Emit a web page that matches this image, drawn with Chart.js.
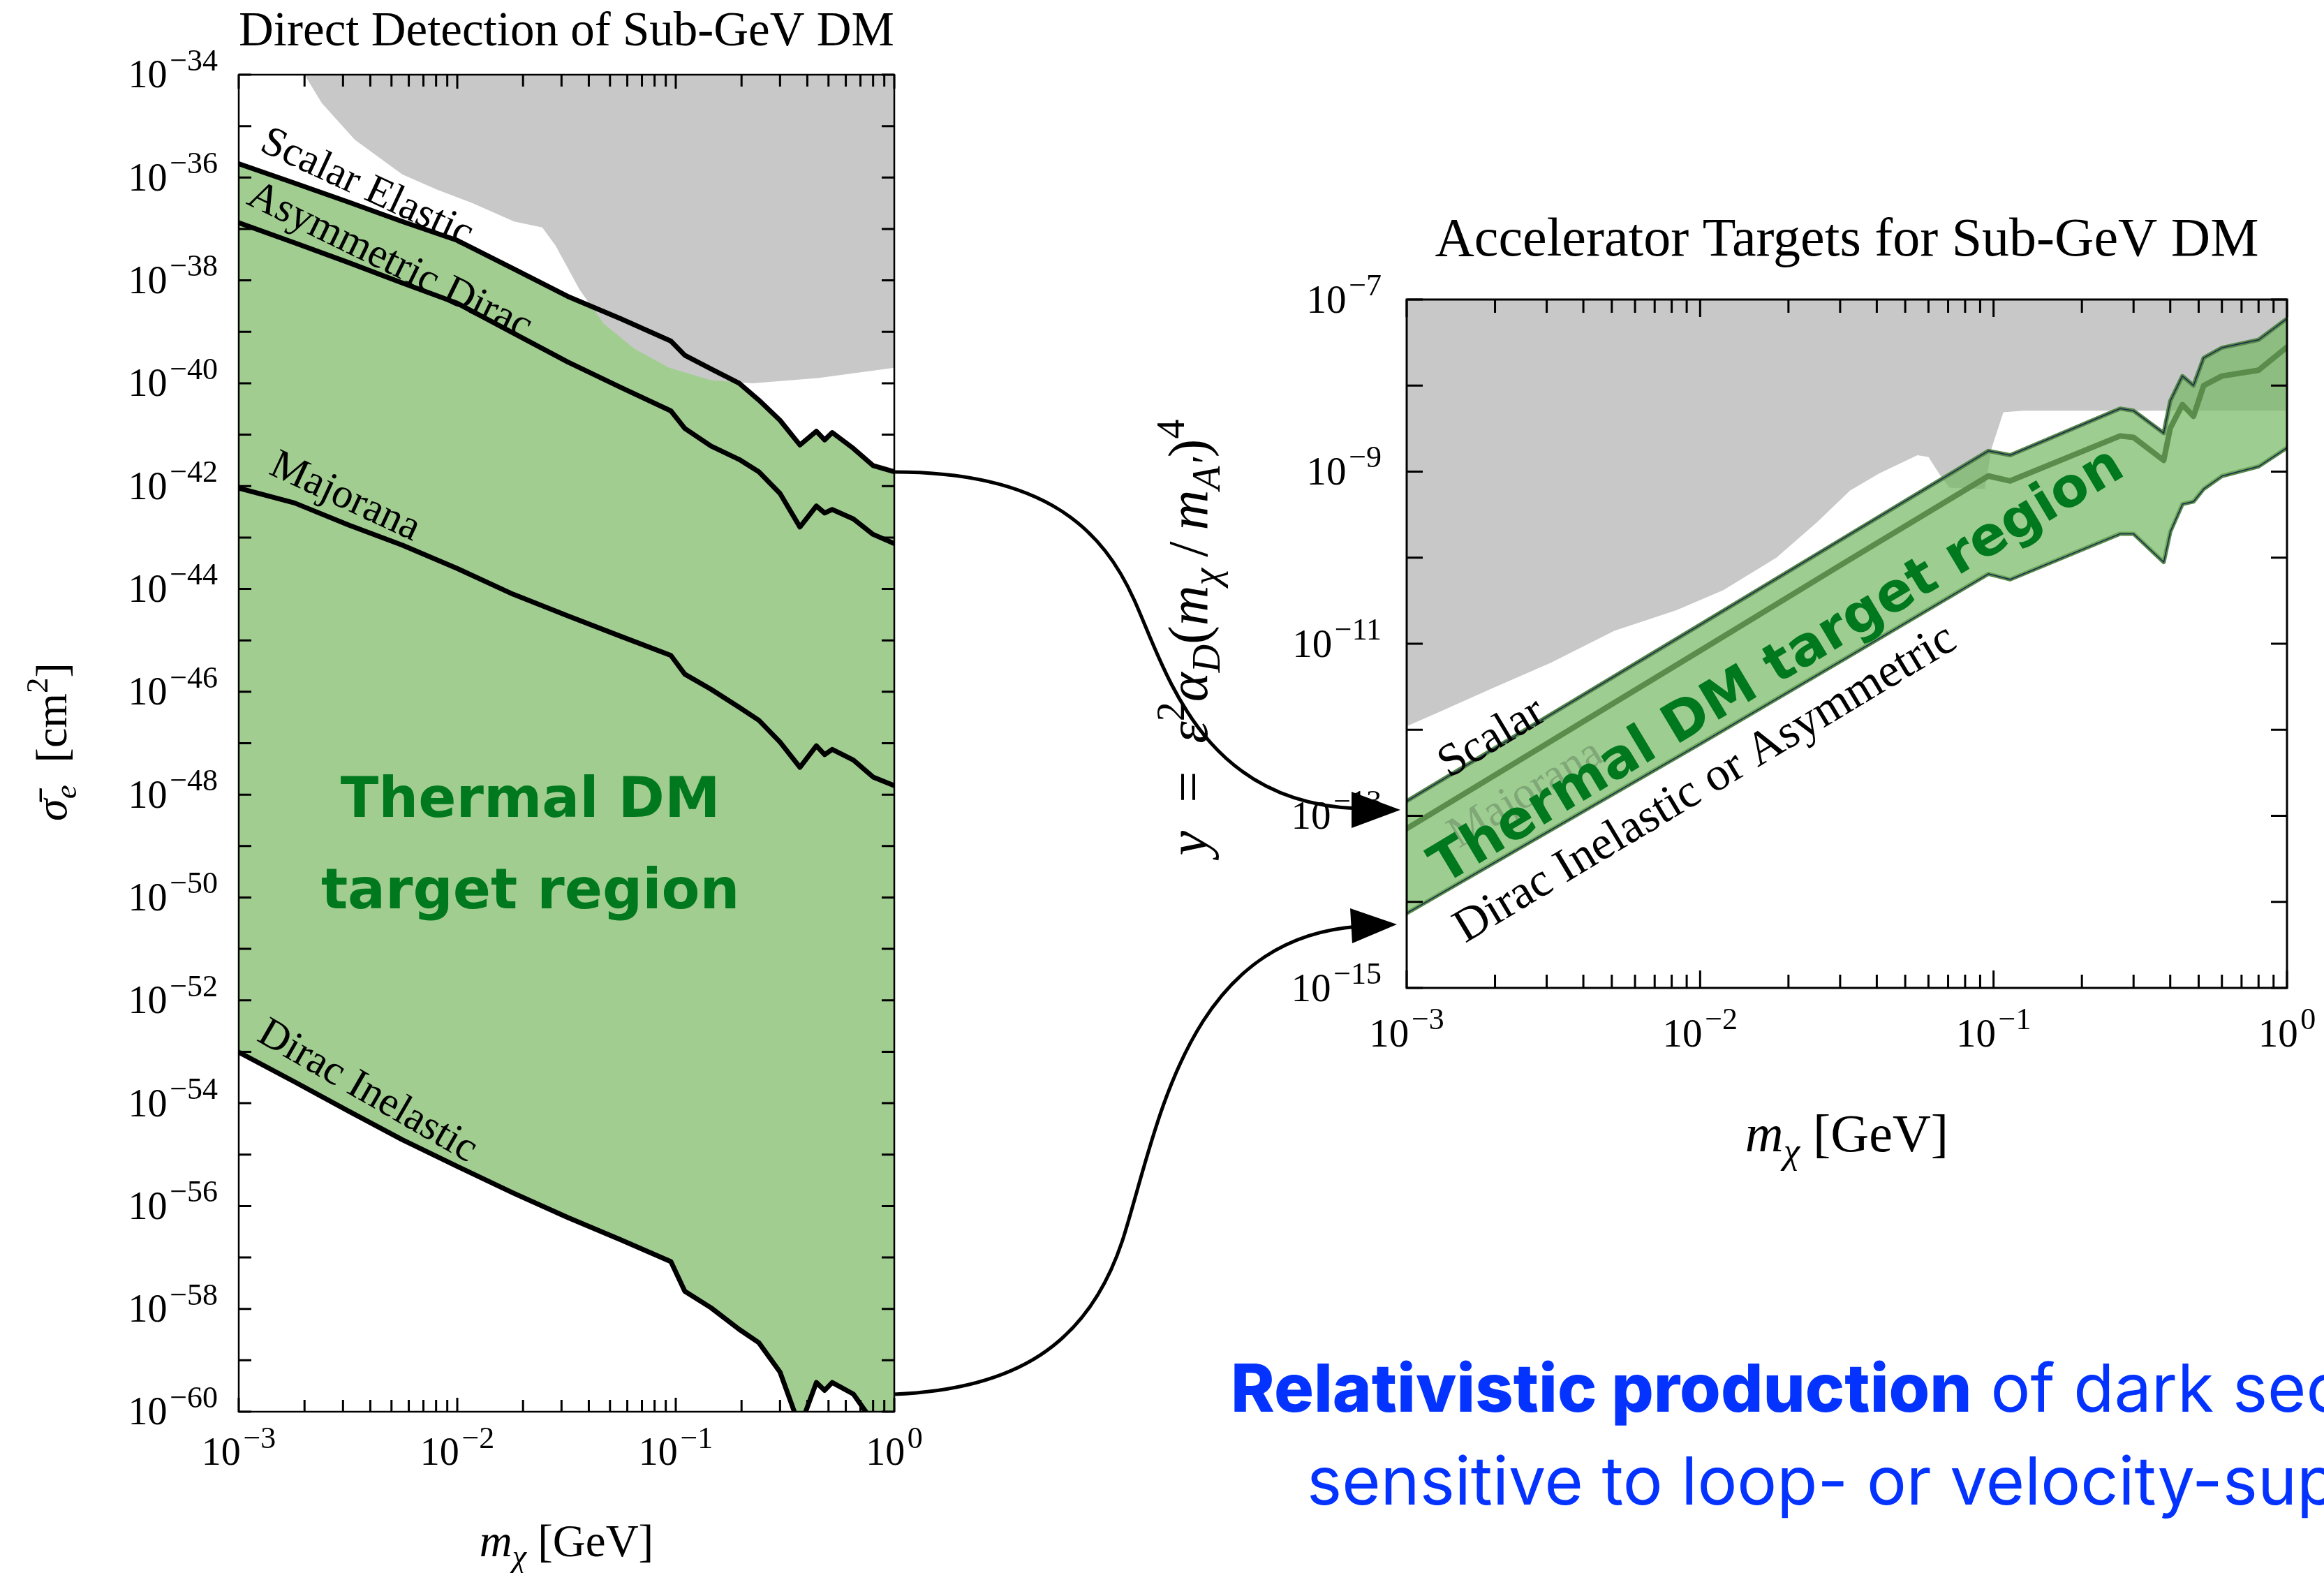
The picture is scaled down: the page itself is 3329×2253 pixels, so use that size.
<!DOCTYPE html>
<html>
<head>
<meta charset="utf-8">
<title>Thermal DM targets</title>
<script src="https://cdn.jsdelivr.net/npm/chart.js@4.4.1/dist/chart.umd.min.js"></script>
<style>
  html, body { margin: 0; padding: 0; background: #fff; }
  body { width: 3329px; height: 2253px; position: relative; overflow: hidden; }
  canvas, svg { position: absolute; left: 0; top: 0; }
  .caption { position: absolute; white-space: nowrap; color: #0433ff; font-family: Inter, 'Noto Sans', sans-serif; font-size: 95px; line-height: 95px; }
  .caption b { font-weight: 800; }
</style>
</head>
<body>
<canvas id="direct" width="3329" height="2253"></canvas>
<canvas id="accel" width="3329" height="2253"></canvas>
<svg width="3329" height="2253" viewBox="0 0 3329 2253">
  <g fill="none" stroke="#000" stroke-width="5">
    <path d="M1281,676 C1500,676 1580,760 1625,860 C1670,960 1720,1150 1945,1158"/>
    <path d="M1281,1997 C1450,1990 1560,1930 1610,1770 C1660,1610 1700,1345 1945,1327"/>
  </g>
  <polygon points="2006,1160 1936,1134 1936,1186" fill="#000"/>
  <polygon points="2001,1324 1934,1301 1937,1351" fill="#000"/>
</svg>
<div class="caption" style="left:1763px;top:1940px"><b>Relativistic production</b> of dark sector particles</div>
<div class="caption" style="left:1872px;top:2073px">sensitive to loop- or velocity-suppressed interactions</div>
<script>
// ---- direct detection panel (sigma_e in cm^2 vs m_chi in GeV)
const massDD = [0.001, 0.0018, 0.0032, 0.0056, 0.01, 0.018, 0.032, 0.056, 0.095, 0.11, 0.145, 0.195, 0.24, 0.3, 0.37, 0.44, 0.48, 0.52, 0.65, 0.8, 1.0];
const scalarElastic = [1.86e-36, 7.8e-37, 3.3e-37, 1.4e-37, 6.0e-38, 1.7e-38, 4.9e-39, 1.8e-39, 6.6e-40, 3.5e-40, 1.9e-40, 1.0e-40, 4.7e-41, 1.9e-41, 6.3e-42, 1.17e-41, 7.9e-42, 1.1e-41, 5.4e-42, 2.5e-42, 1.9e-42];
const asymmetricDirac = [1.32e-37, 5.4e-38, 2.2e-38, 8.9e-39, 3.6e-39, 9.5e-40, 2.6e-40, 8.3e-41, 2.9e-41, 1.32e-41, 6.0e-42, 3.3e-42, 1.9e-42, 7.2e-43, 1.6e-43, 4.1e-43, 3.0e-43, 3.5e-43, 2.3e-43, 1.15e-43, 7.6e-44];
const majorana = [9.1e-43, 4.7e-43, 1.74e-43, 7.1e-44, 2.5e-44, 7.9e-45, 3.0e-45, 1.2e-45, 5.1e-46, 2.2e-46, 1.12e-46, 5.0e-47, 2.8e-47, 1.05e-47, 3.4e-48, 8.9e-48, 6.0e-48, 7.6e-48, 4.7e-48, 2.2e-48, 1.5e-48];
const diracInelastic = [9.8e-54, 2.6e-54, 6.9e-55, 1.95e-55, 5.9e-56, 1.8e-56, 6.0e-57, 2.2e-57, 8.3e-58, 2.2e-58, 1.05e-58, 4.0e-59, 2.2e-59, 5.9e-60, 5.0e-61, 3.7e-60, 2.6e-60, 3.7e-60, 2.2e-60, 6.3e-61, 3.2e-61];
// excluded region (grey), filled up to the top of the panel
const massExclDD = [0.0020, 0.0024, 0.0034, 0.0056, 0.0081, 0.0117, 0.0182, 0.0245, 0.0282, 0.0363, 0.0468, 0.0646, 0.0933, 0.145, 0.224, 0.447, 1.0];
const exclusionDD = [1e-34, 2.8e-35, 5.4e-36, 1.15e-36, 5.8e-37, 3.2e-37, 1.4e-37, 1.07e-37, 4.7e-38, 6.6e-39, 1.45e-39, 4.7e-40, 2.0e-40, 1.15e-40, 1.0e-40, 1.26e-40, 2.0e-40];

// ---- accelerator panel (y vs m_chi in GeV)
const massAcc = [0.001, 0.01, 0.032, 0.096, 0.114, 0.27, 0.30, 0.38, 0.40, 0.44, 0.48, 0.52, 0.60, 0.80, 1.0];
const scalarTarget = [1.48e-13, 1.66e-11, 1.82e-10, 1.74e-9, 1.55e-9, 5.4e-9, 5.1e-9, 2.8e-9, 6.6e-9, 1.29e-8, 1.0e-8, 2.1e-8, 2.75e-8, 3.4e-8, 6.0e-8];
const majoranaTarget = [7.1e-14, 8.3e-12, 9.3e-11, 8.9e-10, 7.8e-10, 2.6e-9, 2.5e-9, 1.35e-9, 3.2e-9, 6.0e-9, 4.4e-9, 1.0e-8, 1.29e-8, 1.51e-8, 2.8e-8];
const diracTarget = [7.4e-15, 6.9e-13, 7.1e-12, 6.5e-11, 5.6e-11, 1.9e-10, 1.9e-10, 8.9e-11, 2.0e-10, 4.2e-10, 4.5e-10, 6.3e-10, 8.9e-10, 1.15e-9, 1.9e-9];
const massExclAcc = [0.001, 0.00132, 0.0019, 0.0031, 0.0051, 0.0083, 0.012, 0.0182, 0.0251, 0.0324, 0.0407, 0.055, 0.060, 0.066, 0.0708, 0.0933, 0.0986, 0.108, 0.126, 1.0];
const exclusionAcc = [1.1e-12, 1.66e-12, 2.9e-12, 6.0e-12, 1.41e-11, 2.45e-11, 4.2e-11, 1.0e-10, 2.6e-10, 6.0e-10, 9.5e-10, 1.55e-9, 1.48e-9, 8.9e-10, 6.5e-10, 6.3e-10, 1.9e-9, 4.9e-9, 5.1e-9, 5.1e-9];

// tick labels (powers of ten)
const massTickExps = [-3, -2, -1, 0];
const sigmaTickExps = [-34, -36, -38, -40, -42, -44, -46, -48, -50, -52, -54, -56, -58, -60];
const yTargetTickExps = [-7, -9, -11, -13, -15];

const SERIF = '"Liberation Serif", "DejaVu Serif", serif';
const SANS = '"DejaVu Sans", Verdana, sans-serif';
const GREEN_TEXT = '#00781e';

const pts = (xs, ys) => xs.map((x, i) => ({ x, y: ys[i] }));
const pow10 = e => [{ t: '10' }, { t: '\u200a' + (e < 0 ? '\u2212' + (-e) : String(e)), s: 0.78, dy: -0.44 }];
const plain = t => [{ t }];

// draws a row of text runs (sub/superscripts) centred on x,y
function drawRuns(ctx, runs, x, y, o) {
  const size = o.size;
  const fontOf = r => `${o.bold ? 'bold ' : ''}${r.it ? 'italic ' : ''}${Math.round(size * (r.s || 1))}px ${o.family || SERIF}`;
  let w = 0;
  const ws = runs.map(r => { ctx.font = fontOf(r); const m = ctx.measureText(r.t).width; w += m; return m; });
  ctx.save();
  ctx.translate(x, y);
  if (o.angle) ctx.rotate(o.angle * Math.PI / 180);
  ctx.fillStyle = o.color || '#000';
  ctx.textAlign = 'left';
  ctx.textBaseline = 'alphabetic';
  let cx = o.align === 'right' ? -w : o.align === 'left' ? 0 : -w / 2;
  const by = size * (o.base ?? 0.33);
  runs.forEach((r, i) => {
    ctx.font = fontOf(r);
    ctx.fillText(r.t, cx, by + size * (r.dy || 0));
    cx += ws[i];
  });
  ctx.restore();
}

// frame, inward ticks on all sides, tick labels, titles and in-plot notes
function makeDeco(cfg) {
  return {
    id: 'deco',
    afterDatasetsDraw(chart) {
      const { ctx, chartArea: a, scales: { x, y } } = chart;
      cfg.notes.forEach(n => drawRuns(ctx, n.runs, x.getPixelForValue(n.x), y.getPixelForValue(n.y), n));

      ctx.save();
      ctx.strokeStyle = '#000';
      ctx.lineWidth = cfg.frame;
      ctx.strokeRect(a.left, a.top, a.right - a.left, a.bottom - a.top);
      ctx.lineWidth = cfg.tickWidth;
      ctx.beginPath();
      const lo = Math.round(Math.log10(x.min)), hi = Math.round(Math.log10(x.max));
      for (let d = lo; d <= hi; d++) {
        for (let k = 1; k <= 9; k++) {
          const v = k * Math.pow(10, d);
          if (v > x.max * 1.0001) break;
          const px = x.getPixelForValue(v);
          const len = k === 1 ? cfg.majorLen : cfg.minorLen;
          ctx.moveTo(px, a.bottom); ctx.lineTo(px, a.bottom - len);
          ctx.moveTo(px, a.top); ctx.lineTo(px, a.top + len);
        }
      }
      const ylo = Math.round(Math.log10(y.min)), yhi = Math.round(Math.log10(y.max));
      for (let d = ylo; d <= yhi; d++) {
        const py = y.getPixelForValue(Math.pow(10, d));
        ctx.moveTo(a.left, py); ctx.lineTo(a.left + cfg.yLen, py);
        ctx.moveTo(a.right, py); ctx.lineTo(a.right - cfg.yLen, py);
      }
      ctx.stroke();
      ctx.restore();

      cfg.xExps.forEach(e => drawRuns(ctx, pow10(e), x.getPixelForValue(Math.pow(10, e)), a.bottom + cfg.xLabelOffset, { size: cfg.tickSize }));
      cfg.yExps.forEach(e => drawRuns(ctx, pow10(e), a.left - cfg.yLabelGap, y.getPixelForValue(Math.pow(10, e)), { size: cfg.tickSize, align: 'right' }));

      const cxm = (a.left + a.right) / 2, cym = (a.top + a.bottom) / 2;
      drawRuns(ctx, plain(cfg.title), cxm, a.top - cfg.titleOffset, { size: cfg.titleSize });
      drawRuns(ctx, cfg.xTitle, cxm, a.bottom + cfg.xTitleOffset, { size: cfg.xAxisSize });
      drawRuns(ctx, cfg.yTitle, a.left - cfg.yTitleOffset, cym + cfg.yTitleShift, { size: cfg.yAxisSize, angle: -90 });
    }
  };
}

const lineDefaults = { pointRadius: 0, tension: 0, borderJoinStyle: 'round', borderCapStyle: 'round', clip: 0 };
const W = 3329, H = 2253;

function baseOptions(area, xMin, xMax, yMin, yMax) {
  return {
    responsive: false,
    animation: false,
    devicePixelRatio: 1,
    events: [],
    layout: { padding: { left: area.left, top: area.top, right: W - area.right, bottom: H - area.bottom } },
    plugins: { legend: { display: false }, tooltip: { enabled: false }, title: { display: false } },
    scales: {
      x: { type: 'logarithmic', min: xMin, max: xMax, display: false },
      y: { type: 'logarithmic', min: yMin, max: yMax, display: false },
    },
  };
}

const black = { ...lineDefaults, borderColor: '#000', borderWidth: 7, fill: false, order: 1 };

new Chart(document.getElementById('direct'), {
  type: 'line',
  data: {
    datasets: [
      { ...lineDefaults, label: 'thermal band', data: pts(massDD, scalarElastic), borderWidth: 0, backgroundColor: '#a1cd91', fill: 5, order: 10 },
      { ...lineDefaults, label: 'excluded', data: pts(massExclDD, exclusionDD), borderWidth: 0, backgroundColor: '#c8c8c8', fill: 'end', order: 8 },
      { ...black, label: 'Scalar Elastic', data: pts(massDD, scalarElastic) },
      { ...black, label: 'Asymmetric Dirac', data: pts(massDD, asymmetricDirac) },
      { ...black, label: 'Majorana', data: pts(massDD, majorana) },
      { ...black, label: 'Dirac Inelastic', data: pts(massDD, diracInelastic) },
    ],
  },
  options: baseOptions({ left: 342, top: 107, right: 1281, bottom: 2022 }, 1e-3, 1, 1e-60, 1e-34),
  plugins: [makeDeco({
    frame: 2.5, tickWidth: 3, majorLen: 20, minorLen: 17, yLen: 18,
    tickSize: 56, xLabelOffset: 58, yLabelGap: 30, xExps: massTickExps, yExps: sigmaTickExps,
    title: 'Direct Detection of Sub-GeV DM', titleSize: 69, titleOffset: 65,
    xAxisSize: 65, yAxisSize: 64, xTitleOffset: 186, yTitleOffset: 268, yTitleShift: -2,
    xTitle: [{ t: 'm', it: 1 }, { t: '\u03c7', it: 1, s: 0.7, dy: 0.22 }, { t: ' [GeV]' }],
    yTitle: [{ t: '\u03c3\u0304', it: 1 }, { t: 'e', it: 1, s: 0.7, dy: 0.22 }, { t: '  [cm' }, { t: '2', s: 0.7, dy: -0.42 }, { t: ']' }],
    notes: [
      { runs: plain('Scalar Elastic'), x: 0.0039, y: 6.9e-37, size: 60, angle: 25 },
      { runs: plain('Asymmetric Dirac'), x: 0.00497, y: 2.6e-38, size: 60, angle: 26 },
      { runs: plain('Majorana'), x: 0.0031, y: 6.8e-43, size: 60, angle: 25 },
      { runs: plain('Dirac Inelastic'), x: 0.00393, y: 1.86e-54, size: 60, angle: 30 },
      { runs: plain('Thermal DM'), x: 0.0216, y: 9.1e-49, size: 80, family: SANS, bold: true, color: GREEN_TEXT, base: 0.36 },
      { runs: plain('target region'), x: 0.0216, y: 1.5e-50, size: 80, family: SANS, bold: true, color: GREEN_TEXT, base: 0.36 },
    ],
  })],
});

const edge = { ...lineDefaults, borderColor: '#55884a', borderWidth: 6, fill: false, order: 5 };
const outline = { ...lineDefaults, borderColor: '#1c2a4a', borderWidth: 1.5, fill: false, order: 3 };

new Chart(document.getElementById('accel'), {
  type: 'line',
  data: {
    datasets: [
      { ...lineDefaults, label: 'excluded', data: pts(massExclAcc, exclusionAcc), borderWidth: 0, backgroundColor: '#c8c8c8', fill: 'end', order: 10 },
      { ...edge, label: 'Scalar', data: pts(massAcc, scalarTarget), backgroundColor: 'rgba(117,184,99,0.7)', fill: 2 },
      { ...edge, label: 'Dirac Inelastic or Asymmetric', data: pts(massAcc, diracTarget) },
      { ...lineDefaults, label: 'Majorana', data: pts(massAcc, majoranaTarget), borderColor: '#5a8c4b', borderWidth: 8, fill: false, order: 4 },
      { ...outline, label: 'Scalar outline', data: pts(massAcc, scalarTarget) },
      { ...outline, label: 'Dirac outline', data: pts(massAcc, diracTarget) },
    ],
  },
  options: baseOptions({ left: 2015, top: 429, right: 3276, bottom: 1415 }, 1e-3, 1, 1e-15, 1e-7),
  plugins: [makeDeco({
    frame: 3, tickWidth: 3, majorLen: 25, minorLen: 19, yLen: 23,
    tickSize: 57, xLabelOffset: 65, yLabelGap: 36, xExps: massTickExps, yExps: yTargetTickExps,
    title: 'Accelerator Targets for Sub-GeV DM', titleSize: 78, titleOffset: 89,
    xAxisSize: 76, yAxisSize: 80, xTitleOffset: 209, yTitleOffset: 312, yTitleShift: -9,
    xTitle: [{ t: 'm', it: 1 }, { t: '\u03c7', it: 1, s: 0.7, dy: 0.22 }, { t: ' [GeV]' }],
    yTitle: [
      { t: 'y', it: 1 }, { t: '\u2002=\u2002' }, { t: '\u03b5', it: 1 }, { t: '2', s: 0.7, dy: -0.42 },
      { t: '\u03b1', it: 1 }, { t: 'D', it: 1, s: 0.7, dy: 0.22 }, { t: '(' }, { t: 'm', it: 1 },
      { t: '\u03c7', it: 1, s: 0.7, dy: 0.22 }, { t: '\u2009/\u2009' }, { t: 'm', it: 1 }, { t: 'A\u2032', it: 1, s: 0.7, dy: 0.22 },
      { t: ')' }, { t: '4', s: 0.7, dy: -0.42 },
    ],
    notes: [
      { runs: plain('Scalar'), x: 0.00193, y: 8.5e-13, size: 66, angle: -31 },
      { runs: plain('Majorana'), x: 0.00252, y: 1.9e-13, size: 64, angle: -31, color: 'rgba(70,95,70,0.35)' },
      { runs: plain('Dirac Inelastic or Asymmetric'), x: 0.0103, y: 2.5e-13, size: 68, angle: -31 },
      { runs: plain('Thermal DM target region'), x: 0.018, y: 6.0e-12, size: 78, angle: -31, family: SANS, bold: true, color: GREEN_TEXT, base: 0.36 },
    ],
  })],
});
</script>
</body>
</html>
